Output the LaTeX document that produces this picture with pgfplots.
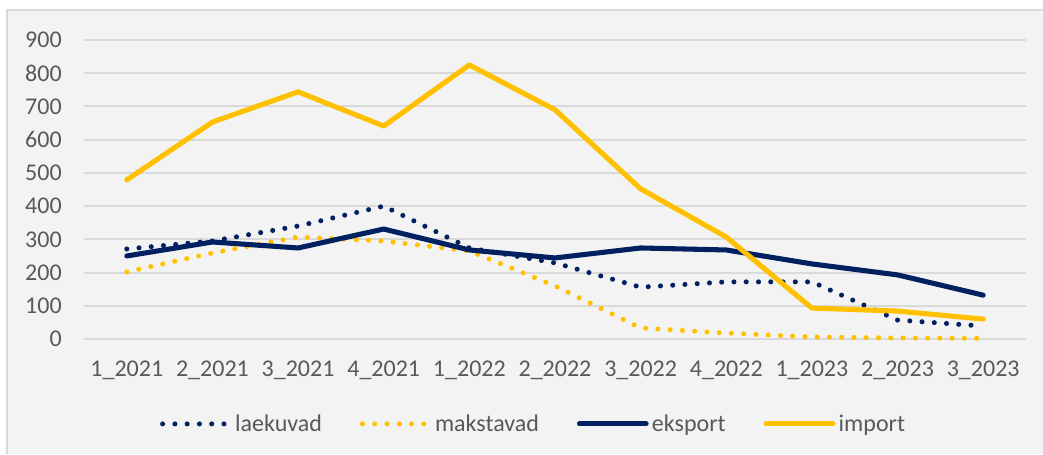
\documentclass[border=0pt]{standalone}
\usepackage{fontspec}
\setmainfont{Carlito}
\usepackage{pgfplots}
\pgfplotsset{compat=1.18}
\definecolor{navy}{HTML}{002060}
\definecolor{gold}{HTML}{FFC000}
\definecolor{txt}{HTML}{595959}
\definecolor{bg}{HTML}{F3F3F3}
\definecolor{frame}{HTML}{D9D9D9}

\begin{document}
\begin{tikzpicture}
\path[use as bounding box] (-63pt,-86.25pt) rectangle (719.25pt,254.25pt);
\fill[bg] (-57.75pt,-86.25pt) rectangle (719.25pt,246.75pt);
\draw[frame,line width=1.5pt] (-57.75pt,-86.25pt) -- (-57.75pt,246.75pt) -- (719.25pt,246.75pt);
\begin{axis}[at={(0pt,0pt)},anchor=south west,scale only axis,
  width=706.5pt,height=224.25pt,
  xmin=-0.5,xmax=10.5,ymin=0,ymax=900,
  ytick={0,100,...,900},xtick={0,...,10},
  xticklabels={1\_2021,2\_2021,3\_2021,4\_2021,1\_2022,2\_2022,3\_2022,4\_2022,1\_2023,2\_2023,3\_2023},
  axis line style={draw=none},major tick length=0pt,
  ymajorgrids,grid style={frame,line width=1.5pt},
  /pgf/number format/assume math mode=true,
  tick label style={font=\fontsize{18}{21}\selectfont,text=txt,inner sep=0pt},
  yticklabel style={anchor=east,xshift=-16.5pt},
  xticklabel style={anchor=north,yshift=-16.5pt},
  clip=false,
  legend image code/.code={\draw[#1] (0pt,0pt) -- (50pt,0pt);},
  legend style={at={(axis description cs:0.478,-0.284)},anchor=center,draw=none,fill=none,
    legend columns=4,font=\fontsize{18}{21}\selectfont,text=txt,
    nodes={inner xsep=2.5pt},
    /tikz/every even column/.append style={column sep=26pt}},
  legend cell align=left]
\addplot[navy,line width=3.8pt,line cap=round,dash pattern=on 0pt off 9.2pt] coordinates {
  (0,271) (1,295) (2,340) (3,400) (4,274) (5,229) (6,156) (7,172) (8,172) (9,57) (10,39)};
\addlegendentry{laekuvad}
\addplot[gold,line width=3.8pt,line cap=round,dash pattern=on 0pt off 9.2pt] coordinates {
  (0,202) (1,259) (2,307) (3,295) (4,265) (5,160) (6,33) (7,18) (8,6) (9,3) (10,2)};
\addlegendentry{makstavad}
\addplot[navy,line width=3.8pt,line join=round,line cap=round] coordinates {
  (0,250) (1,292) (2,274) (3,331) (4,268) (5,244) (6,274) (7,268) (8,226) (9,193) (10,132)};
\addlegendentry{eksport}
\addplot[gold,line width=3.8pt,line join=round,line cap=round] coordinates {
  (0,479) (1,653) (2,744) (3,641) (4,825) (5,690) (6,452) (7,307) (8,93) (9,84) (10,60)};
\addlegendentry{import}
\end{axis}
\end{tikzpicture}
\end{document}
